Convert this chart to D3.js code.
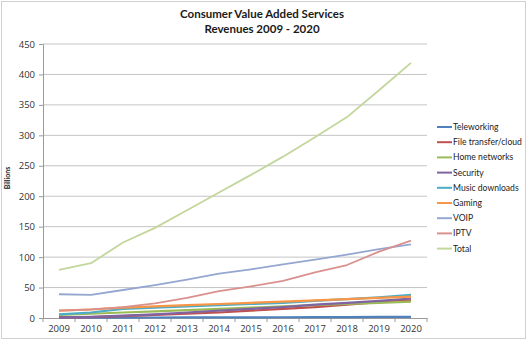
<!DOCTYPE html>
<html>
<head>
<meta charset="utf-8">
<script src="https://cdn.jsdelivr.net/npm/d3@7"></script>
<style>
  body { margin: 0; background: #fff; }
  svg { display: block; font-family: Lato, "Open Sans", sans-serif; }
</style>
</head>
<body>
<div id="chart"></div>
<script>
// revenue per service, billions
var years = ["2009","2010","2011","2012","2013","2014","2015","2016","2017","2018","2019","2020"];
var teleworking   = [0.5, 0.6, 0.7, 0.8, 0.9, 1.0, 1.1, 1.2, 1.4, 1.6, 1.8, 2.0];
var fileTransfer  = [1, 1.5, 3, 5, 7, 9, 12, 15, 18, 22, 26, 29];
var homeNetworks  = [5, 7, 9, 11, 13, 15, 17, 19, 21, 23, 25, 27];
var security      = [1, 2, 4, 6, 9, 12, 15, 18, 22, 25, 28, 32];
var musicDownload = [6, 9, 15, 17, 19, 21, 23, 25, 28, 31, 34, 38];
var gaming        = [12, 14, 17, 19, 21, 23, 25, 27, 29, 31, 33, 35];
var voip          = [39, 38, 46, 54, 63, 73, 80, 88, 96, 104, 113, 121];
var iptv          = [12, 14, 18, 24, 33, 44, 52, 61, 75, 87, 109, 127];
var total         = [79, 90, 124, 148, 177, 206, 235, 265, 297, 330, 374, 419];
var seriesNames = ["Teleworking","File transfer/cloud","Home networks","Security","Music downloads","Gaming","VOIP","IPTV","Total"];
var yTicks = [0, 50, 100, 150, 200, 250, 300, 350, 400, 450];

var seriesValues = [teleworking, fileTransfer, homeNetworks, security, musicDownload, gaming, voip, iptv, total];
var colors = ["#4f81bd","#c0504d","#9bbb59","#8064a2","#4bacc6","#f79646","#95a7d1","#d9918f","#c3d69b"];

var width = 528, height = 341;
var plot = {left: 43, right: 427, top: 44, bottom: 318};

var svg = d3.select("#chart").append("svg")
  .attr("width", width)
  .attr("height", height);

// outer chart frame
svg.append("rect")
  .attr("x", 1.5).attr("y", 1.5)
  .attr("width", width - 4).attr("height", height - 4)
  .attr("fill", "#fff")
  .attr("stroke", "#d0d0d0");

svg.append("text")
  .attr("x", 262).attr("y", 18)
  .attr("text-anchor", "middle")
  .attr("font-size", 11.5).attr("font-weight", "bold").attr("fill", "#1a1a1a")
  .text("Consumer Value Added Services");
svg.append("text")
  .attr("x", 262).attr("y", 33)
  .attr("text-anchor", "middle")
  .attr("font-size", 11.5).attr("font-weight", "bold").attr("fill", "#1a1a1a")
  .text("Revenues 2009 - 2020");

var x = d3.scaleBand().domain(years).range([plot.left, plot.right]);
var y = d3.scaleLinear().domain([0, 450]).range([plot.bottom, plot.top]);

// gridlines
svg.append("g")
  .selectAll("line")
  .data(yTicks.filter(function (d) {return d > 0;}))
  .enter().append("line")
  .attr("x1", plot.left).attr("x2", plot.right)
  .attr("y1", function (d) {return y(d);})
  .attr("y2", function (d) {return y(d);})
  .attr("stroke", "#c4c4c4");

// y axis
var yAxis = svg.append("g")
  .attr("transform", "translate(" + plot.left + ",0)")
  .call(d3.axisLeft(y).tickValues(yTicks).tickSize(4).tickPadding(4));
yAxis.select(".domain").attr("stroke", "#9a9a9a");
yAxis.selectAll(".tick line").attr("stroke", "#9a9a9a");
yAxis.selectAll("text").attr("font-size", 9.5).attr("fill", "#333")
  .attr("font-family", "Open Sans, sans-serif");

// x axis, ticks on category boundaries
var xAxis = svg.append("g")
  .attr("transform", "translate(0," + plot.bottom + ")")
  .call(d3.axisBottom(x).tickSize(0).tickPadding(7));
xAxis.select(".domain").attr("stroke", "#9a9a9a");
xAxis.selectAll("text").attr("font-size", 9.5).attr("fill", "#333")
  .attr("font-family", "Open Sans, sans-serif");
xAxis.selectAll(".bound")
  .data(d3.range(years.length + 1))
  .enter().append("line")
  .attr("class", "bound")
  .attr("x1", function (i) {return plot.left + i * x.step();})
  .attr("x2", function (i) {return plot.left + i * x.step();})
  .attr("y1", 0).attr("y2", 4)
  .attr("stroke", "#9a9a9a");

svg.append("text")
  .attr("transform", "translate(10,178) rotate(-90)")
  .attr("text-anchor", "middle")
  .attr("font-size", 7).attr("font-weight", "bold").attr("fill", "#222")
  .text("Billions");

// lines
var line = d3.line()
  .x(function (d, i) {return x(years[i]) + x.bandwidth() / 2;})
  .y(function (d) {return y(d);});

svg.append("g")
  .selectAll("path")
  .data(seriesValues)
  .enter().append("path")
  .attr("d", line)
  .attr("fill", "none")
  .attr("stroke", function (d, i) {return colors[i];})
  .attr("stroke-width", function (d, i) {return i >= 6 ? 1.8 : 2.2;})
  .attr("stroke-linejoin", "round");

// legend
var legend = svg.append("g")
  .selectAll("g")
  .data(seriesNames)
  .enter().append("g")
  .attr("transform", function (d, i) {return "translate(437," + (127 + i * 15.2) + ")";});
legend.append("line")
  .attr("x1", 0).attr("x2", 15)
  .attr("stroke", function (d, i) {return colors[i];})
  .attr("stroke-width", 2);
legend.append("text")
  .attr("x", 16).attr("dy", "0.35em")
  .attr("font-size", 8.6).attr("fill", "#222")
  .text(function (d) {return d;});
</script>
</body>
</html>
